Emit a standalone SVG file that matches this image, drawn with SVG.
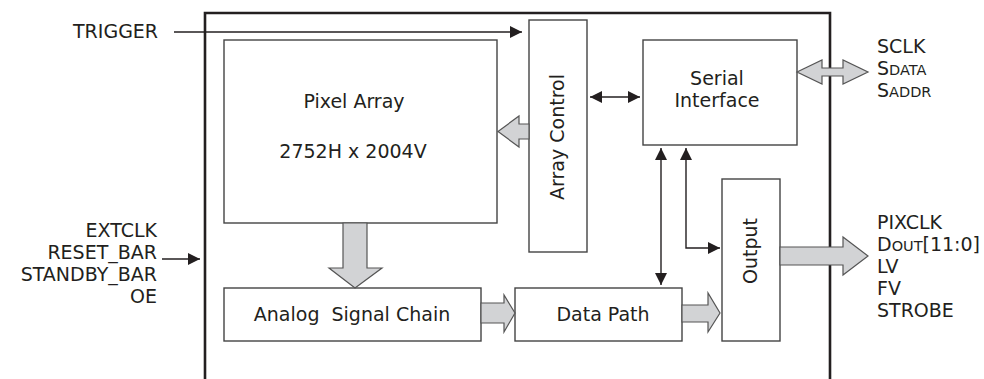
<svg xmlns="http://www.w3.org/2000/svg" width="984" height="379" viewBox="0 0 984 379">
<style>
text{font-family:"DejaVu Sans","Open Sans","Liberation Sans",sans-serif;font-size:19px;fill:#231f20}
.box{fill:#fff;stroke:#444;stroke-width:1.4}
.frame{fill:none;stroke:#231f20;stroke-width:2.6}
.wire{fill:none;stroke:#231f20;stroke-width:1.4}
.block{fill:#d2d3d5;stroke:#555;stroke-width:1.2}
.c{text-anchor:middle}
.r{text-anchor:end}
.sc{font-size:14.5px}
</style>
<defs>
<marker id="ah" viewBox="0 0 12 12" refX="12" refY="6" markerWidth="12" markerHeight="12" markerUnits="userSpaceOnUse" orient="auto-start-reverse">
<path d="M0,0 L12,6 L0,12 z" fill="#231f20"/>
</marker>
</defs>
<rect width="984" height="379" fill="#fff"/>
<g id="frame"><path class="frame" d="M205,379 V13 H830 V379"/></g>
<g id="pixel-array"><rect class="box" x="224" y="40" width="273" height="183"/>
<text class="c" x="354" y="108">Pixel Array</text>
<text class="c" x="353" y="158">2752H x 2004V</text></g>
<g id="array-control"><rect class="box" x="529" y="20" width="58" height="232"/>
<text class="c" transform="translate(564,137) rotate(-90)">Array Control</text></g>
<g id="serial-interface"><rect class="box" x="643" y="40" width="154" height="105"/>
<text class="c" x="717" y="85">Serial</text>
<text class="c" x="717" y="107">Interface</text></g>
<g id="output"><rect class="box" x="722" y="179" width="58" height="162"/>
<text class="c" transform="translate(757,251) rotate(-90)">Output</text></g>
<g id="data-path"><rect class="box" x="515" y="288" width="167" height="53"/>
<text class="c" x="603" y="321">Data Path</text></g>
<g id="analog-signal-chain"><rect class="box" x="224" y="288" width="257" height="53"/>
<text class="c" x="352" y="321" xml:space="preserve">Analog  Signal Chain</text></g>
<g id="connectors">
<path class="wire" d="M174,32 H522" marker-end="url(#ah)"/>
<path class="wire" d="M162,259 H200" marker-end="url(#ah)"/>
<path class="wire" d="M590,97 H640" marker-start="url(#ah)" marker-end="url(#ah)"/>
<path class="wire" d="M661,148 V285" marker-start="url(#ah)" marker-end="url(#ah)"/>
<path class="wire" d="M686,148 V248 H720" marker-start="url(#ah)" marker-end="url(#ah)"/>
<polygon class="block" points="529,124 519,124 519,116 498,131.5 519,147 519,139 529,139"/>
<polygon class="block" points="343,223 367,223 367,268 382,268 355,288 329,268 343,268"/>
<polygon class="block" points="481,303 504,303 504,295 515,313 504,332 504,323 481,323"/>
<polygon class="block" points="682,305 708,305 708,293 720,313 708,332 708,322 682,322"/>
<polygon class="block" points="780,247 843,247 843,237 868,256 843,275 843,265 780,265"/>
<polygon class="block" points="797,72 822,60 822,68 843,68 843,60 868,72 843,84 843,76 822,76 822,84"/>
</g>
<g id="labels">
<text x="73" y="38">TRIGGER</text>
<text class="r" x="157" y="237">EXTCLK</text>
<text class="r" x="157" y="259">RESET_BAR</text>
<text class="r" x="157" y="281">STANDBY_BAR</text>
<text class="r" x="157" y="303">OE</text>
<text x="877" y="53">SCLK</text>
<text x="877" y="75">S<tspan class="sc">DATA</tspan></text>
<text x="877" y="97">S<tspan class="sc">ADDR</tspan></text>
<text x="877" y="229">PIXCLK</text>
<text x="877" y="251">D<tspan class="sc">OUT</tspan>[11:0]</text>
<text x="877" y="273">LV</text>
<text x="877" y="295">FV</text>
<text x="877" y="317">STROBE</text>
</g>
</svg>
